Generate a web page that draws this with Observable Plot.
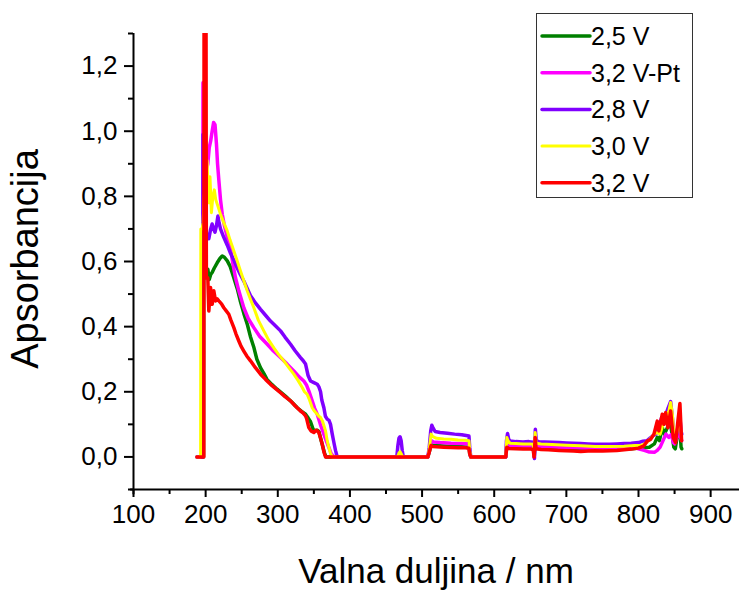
<!DOCTYPE html>
<html>
<head>
<meta charset="utf-8">
<script src="https://cdn.jsdelivr.net/npm/d3@7"></script>
<script src="https://cdn.jsdelivr.net/npm/@observablehq/plot@0.6"></script>
<style>
  html, body { margin: 0; padding: 0; background: #fff; }
  #chart { width: 739px; height: 590px; }
</style>
</head>
<body>
<div id="chart"></div>
<script>
// Series: [wavelength nm, absorbance]
const seriesNames = ["2,5 V", "3,2 V-Pt", "2,8 V", "3,0 V", "3,2 V"];
const seriesColors = ["#008000", "#FF00FF", "#8000FF", "#FFFF00", "#FF0000"];

const v25 = [[188,0],[197,0],[197.3,0.58],[199,0.56],[201,0.55],[203,0.576],[205,0.545],[207,0.56],[209,0.566],[212,0.58],[216,0.596],[220,0.61],[223,0.617],[226,0.613],[230,0.602],[234,0.585],[239,0.55],[244,0.515],[248,0.479],[253,0.44],[258,0.405],[262,0.37],[267,0.335],[271,0.3],[276,0.274],[281,0.255],[285,0.238],[292,0.222],[299,0.208],[306,0.195],[313,0.182],[320,0.167],[327,0.151],[333,0.14],[338.5,0.131],[342,0.12],[345.4,0.108],[349,0.085],[352,0.08],[355,0.082],[357,0.078],[359,0.06],[362,0.035],[365,0.01],[367,0],
  [508,0],[510,0.015],[512.5,0.038],[516,0.035],[525,0.034],[540,0.032],[555,0.031],[565,0.03],[566,0.01],[567.5,0],[616,0],[617.5,0.035],[620,0.03],[630,0.029],[645,0.028],[654,0.027],[655.5,0.002],[656.8,0.05],[658,0.028],[670,0.027],[690,0.025],[710,0.023],[730,0.022],[750,0.022],[770,0.023],[790,0.025],[805,0.028],[815,0.03],[822,0.04],[826,0.06],[829,0.05],[833,0.09],[836,0.07],[840,0.09],[844,0.11],[847,0.06],[849,0.03],[851,0.025],[854,0.07],[857,0.1],[859,0.03],[860,0.025]];

const v32pt = [[188,0],[196,0],[196.3,1.149],[198.5,1.15],[199.5,0.95],[201,0.88],[203,0.9],[205,0.95],[207,0.97],[209,1.0],[211,1.027],[213,1.02],[215,0.96],[216.5,0.9],[218.3,0.85],[220.6,0.79],[223,0.745],[226,0.71],[230,0.675],[234.5,0.64],[238,0.59],[241.4,0.55],[246,0.51],[252.9,0.458],[259,0.425],[266.8,0.397],[275,0.37],[285.4,0.346],[294,0.325],[303.8,0.305],[313,0.285],[322.2,0.264],[330,0.245],[336.1,0.233],[340,0.22],[343,0.203],[347.7,0.172],[351,0.15],[354.7,0.131],[359,0.1],[363.8,0.07],[367,0.05],[370.8,0.029],[374,0.01],[377.7,0],
  [508,0],[510,0.02],[512.5,0.05],[516,0.046],[525,0.044],[540,0.042],[555,0.041],[565,0.04],[566,0.015],[567.5,0],[616,0],[617.5,0.045],[620,0.036],[630,0.034],[645,0.033],[654,0.032],[655.5,0],[656.8,0.06],[658,0.033],[670,0.032],[690,0.03],[710,0.029],[730,0.027],[750,0.027],[770,0.028],[790,0.03],[800,0.025],[808,0.02],[815,0.015],[822,0.014],[826,0.02],[830,0.03],[834,0.05],[838,0.07],[842,0.06],[846,0.07],[848,0.045],[850,0.04],[853,0.06],[856,0.08],[858,0.06],[860,0.05]];

const v28 = [[188,0],[196,0],[196.3,0.99],[198,0.9],[199.5,0.7],[202,0.68],[204.4,0.67],[207,0.7],[209,0.715],[211,0.7],[213,0.69],[215,0.71],[217,0.74],[218.5,0.72],[220.6,0.7],[225,0.675],[230,0.65],[234.5,0.625],[240,0.6],[243.8,0.58],[248,0.56],[252.9,0.54],[257,0.52],[262.2,0.495],[269,0.473],[276.1,0.453],[283,0.435],[289.9,0.417],[297,0.402],[303.8,0.387],[310,0.368],[317.7,0.346],[324,0.326],[331.5,0.305],[335,0.296],[338.5,0.285],[342,0.25],[345.4,0.233],[350,0.228],[354.7,0.223],[357,0.215],[359.3,0.2],[361,0.175],[363.9,0.151],[366,0.125],[368.5,0.116],[371,0.112],[373.1,0.1],[375.5,0.07],[377.7,0.045],[380,0.02],[382.4,0],
  [465,0],[466.5,0.035],[468,0.058],[469.5,0.062],[471,0.05],[472.5,0.02],[474,0],[508,0],[510,0.03],[512,0.08],[513.5,0.097],[515,0.09],[518,0.078],[525,0.075],[535,0.073],[545,0.07],[555,0.068],[565,0.064],[566,0.03],[567.5,0],[616,0],[617,0.05],[618.5,0.072],[620,0.055],[622,0.049],[630,0.047],[640,0.046],[648,0.047],[654,0.045],[655,0.01],[655.8,-0.005],[657,0.085],[658.3,0.05],[662,0.046],[670,0.046],[680,0.045],[690,0.044],[700,0.043],[710,0.042],[720,0.041],[730,0.04],[740,0.039],[750,0.039],[760,0.039],[770,0.04],[780,0.041],[790,0.042],[800,0.044],[806,0.048],[812,0.05],[816,0.058],[820,0.065],[824,0.07],[828,0.09],[832,0.12],[835,0.1],[838,0.13],[841,0.15],[844.5,0.17],[847,0.12],[849,0.07],[852,0.06],[855,0.09],[857.5,0.12],[859,0.08],[860,0.07]];

const v30 = [[188,0],[193,0],[193.3,0.7],[195,0.7],[196.5,0.72],[198,0.8],[200,0.85],[202,0.91],[204,0.78],[206,0.86],[208,0.75],[210,0.8],[212,0.82],[214,0.79],[217,0.77],[220.6,0.745],[225,0.72],[229.9,0.694],[234,0.665],[239.1,0.632],[244,0.6],[248.3,0.571],[253,0.54],[257.6,0.51],[262,0.485],[266.8,0.458],[273,0.42],[280.6,0.387],[287,0.36],[294.5,0.335],[301,0.315],[308.4,0.295],[315,0.275],[322.2,0.254],[328,0.235],[333.9,0.213],[337,0.2],[340.8,0.192],[344,0.175],[347.7,0.151],[351,0.14],[354.7,0.131],[357,0.125],[359.3,0.121],[362,0.11],[366.2,0.08],[368.5,0.05],[370.8,0.029],[373,0.012],[375.5,0],
  [466,0],[468,0.012],[469.5,0.016],[471,0.01],[473,0],[508,0],[510,0.025],[512.5,0.07],[515,0.062],[520,0.057],[530,0.055],[540,0.054],[550,0.052],[560,0.051],[565,0.05],[566,0.02],[567.5,0],[616,0],[617.5,0.06],[619,0.05],[622,0.042],[630,0.041],[640,0.04],[650,0.04],[654,0.039],[655.3,0.003],[656.8,0.075],[658,0.042],[665,0.04],[680,0.038],[700,0.036],[720,0.034],[740,0.032],[760,0.032],[780,0.033],[795,0.035],[803,0.035],[808,0.04],[812,0.045],[818,0.06],[822,0.07],[826,0.075],[830,0.07],[834,0.1],[838,0.12],[842,0.14],[844.5,0.167],[847,0.13],[849,0.07],[852,0.06],[855,0.1],[857,0.12],[859.7,0.06]];

const v32 = [[188,0],[197.5,0],[197.8,1.4],[200.5,1.4],[201,0.55],[203,0.55],[204.4,0.448],[206.8,0.52],[209.1,0.469],[211.3,0.51],[213.7,0.479],[216,0.485],[218.3,0.479],[222,0.47],[225.2,0.458],[228,0.45],[232.1,0.438],[235,0.42],[239.1,0.397],[242,0.378],[246,0.356],[249,0.34],[252.9,0.325],[257,0.31],[262.2,0.295],[269,0.274],[276.1,0.254],[283,0.238],[289.9,0.223],[297,0.21],[303.8,0.197],[310,0.185],[317.7,0.172],[324,0.157],[331.5,0.141],[335,0.135],[338.5,0.126],[340,0.118],[343,0.09],[346,0.08],[350,0.075],[353,0.082],[355,0.08],[356.9,0.075],[359,0.06],[361.6,0.039],[364,0.015],[366.2,0],
  [508,0],[510,0.015],[512.5,0.035],[515,0.032],[520,0.031],[530,0.03],[540,0.029],[550,0.028],[560,0.028],[565,0.027],[566,0.01],[567.5,0],[616,0],[617.5,0.03],[620,0.026],[630,0.025],[640,0.024],[650,0.024],[654,0.023],[655.3,0],[656.8,0.06],[658,0.025],[665,0.023],[675,0.022],[690,0.02],[700,0.019],[710,0.018],[720,0.017],[730,0.018],[740,0.019],[750,0.018],[760,0.019],[770,0.02],[780,0.022],[790,0.024],[800,0.027],[807.5,0.034],[812.2,0.049],[816.8,0.054],[821.4,0.07],[826,0.11],[828.3,0.08],[832.9,0.131],[835.2,0.1],[837.6,0.136],[840.8,0.09],[844.5,0.141],[848.2,0.059],[851.4,0.044],[854.6,0.11],[857.4,0.164],[859.7,0.05]];

const seriesData = [v25, v32pt, v28, v30, v32];
const seriesWidths = [3.5, 3.5, 3.5, 3, 3.5];

const xMajorTicks = [100, 200, 300, 400, 500, 600, 700, 800, 900];
const xMinorTicks = [150, 250, 350, 450, 550, 650, 750, 850];
const yMajorTicks = [0, 0.2, 0.4, 0.6, 0.8, 1.0, 1.2];
const yMinorTicks = [-0.1, 0.1, 0.3, 0.5, 0.7, 0.9, 1.1, 1.3];
const xTitle = "Valna duljina / nm";
const yTitle = "Apsorbancija";

const FONT = "'Liberation Sans', Arial, Helvetica, sans-serif";

const lineMarks = seriesData.map((s, i) => Plot.line(s, {
  x: d => d[0], y: d => d[1],
  stroke: seriesColors[i], strokeWidth: seriesWidths[i],
  strokeLinejoin: "round", strokeLinecap: "round", clip: true
}));

const chart = Plot.plot({
  width: 739, height: 590,
  marginLeft: 133, marginRight: 0, marginTop: 33, marginBottom: 101,
  style: {fontFamily: FONT, background: "#fff", color: "#000", fontSize: "26px"},
  x: {domain: [100, 940], label: null},
  y: {domain: [-0.1, 1.3], label: null},
  marks: [
    ...lineMarks,
    Plot.ruleX([100], {y1: -0.116, y2: 1.3, stroke: "#000", strokeWidth: 2}),
    Plot.ruleY([-0.1], {x1: 96, x2: 940, stroke: "#000", strokeWidth: 2}),
    Plot.axisX({ticks: xMajorTicks, tickSize: 8, tickPadding: 7, tickFormat: d => String(d), fontSize: 26, strokeWidth: 2, label: null}),
    Plot.axisX({ticks: xMinorTicks, tickSize: 5, tickFormat: () => "", strokeWidth: 2, label: null}),
    Plot.axisY({ticks: yMajorTicks, tickSize: 9, tickPadding: 7, tickFormat: d => d.toFixed(1).replace(".", ","), fontSize: 26, strokeWidth: 2, label: null}),
    Plot.axisY({ticks: yMinorTicks, tickSize: 5, tickFormat: () => "", strokeWidth: 2, label: null})
  ]
});

document.getElementById("chart").appendChild(chart);

const svg = d3.select(chart);
// Axis titles
svg.append("text").attr("x", 436).attr("y", 583).attr("text-anchor", "middle")
  .attr("font-family", FONT).attr("font-size", 35).attr("fill", "#000").text(xTitle);
svg.append("text").attr("transform", "translate(38,259) rotate(-90)").attr("text-anchor", "middle")
  .attr("font-family", FONT).attr("font-size", 38).attr("fill", "#000").text(yTitle);

// Legend
const lg = svg.append("g");
lg.append("rect").attr("x", 536.5).attr("y", 13.5).attr("width", 156).attr("height", 184)
  .attr("fill", "#fff").attr("stroke", "#333").attr("stroke-width", 1);
seriesNames.forEach((name, i) => {
  const cy = 36 + i * 36.7;
  lg.append("line").attr("x1", 542).attr("x2", 590).attr("y1", cy).attr("y2", cy)
    .attr("stroke", seriesColors[i]).attr("stroke-width", i === 3 ? 3 : 3.5).attr("stroke-linecap", "round");
  lg.append("text").attr("x", 591).attr("y", cy + 9).attr("text-anchor", "start").attr("font-family", FONT)
    .attr("font-size", 25).attr("fill", "#000").text(name);
});
</script>
</body>
</html>
